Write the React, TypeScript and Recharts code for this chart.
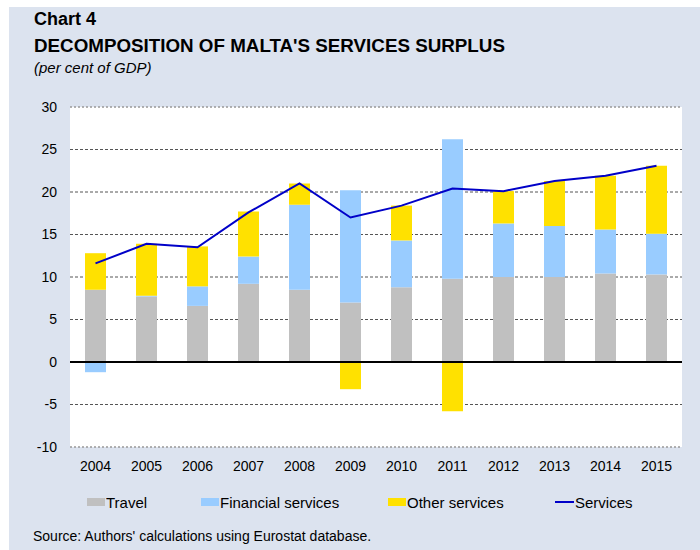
import React from "react";
import {
  ComposedChart,
  Bar,
  Line,
  XAxis,
  YAxis,
  CartesianGrid,
  ReferenceLine,
} from "recharts";

const years = ["2004", "2005", "2006", "2007", "2008", "2009", "2010", "2011", "2012", "2013", "2014", "2015"];
const travel = [8.5, 7.7, 6.6, 9.2, 8.5, 7.0, 8.8, 9.8, 10.0, 10.0, 10.4, 10.3];
const financial = [-1.2, 0.1, 2.3, 3.2, 10.0, 13.2, 5.5, 16.4, 6.3, 6.0, 5.2, 4.8];
const other = [4.3, 6.1, 4.7, 5.3, 2.5, -3.2, 4.1, -5.8, 3.8, 5.3, 6.3, 8.0];
const services = [11.6, 13.9, 13.5, 17.6, 21.0, 17.0, 18.4, 20.4, 20.1, 21.3, 21.9, 23.1];
const yTicks = [-10, -5, 0, 5, 10, 15, 20, 25, 30];

const data = years.map((year, i) => ({
  year,
  travel: travel[i],
  financial: financial[i],
  other: other[i],
  services: services[i],
}));

const FONT = "'Liberation Sans', Arial, sans-serif";
const colors = { travel: "#c0c0c0", financial: "#99ccff", other: "#ffe100", services: "#0000c8" };

const legendItems = [
  { label: "Travel", color: colors.travel, left: 78, type: "box" },
  { label: "Financial services", color: colors.financial, left: 192, type: "box" },
  { label: "Other services", color: colors.other, left: 379, type: "box" },
  { label: "Services", color: colors.services, left: 546, type: "line" },
];

export default function App() {
  return (
    <div
      style={{
        position: "absolute",
        left: 9,
        top: 7,
        width: 691,
        height: 543,
        background: "#dce3ef",
        fontFamily: FONT,
        color: "#000",
      }}
    >
      <div style={{ position: "absolute", left: 25, top: 2, fontSize: 18, fontWeight: "bold" }}>Chart 4</div>
      <div style={{ position: "absolute", left: 25, top: 28, fontSize: 18.8, fontWeight: "bold" }}>
        DECOMPOSITION OF MALTA'S SERVICES SURPLUS
      </div>
      <div style={{ position: "absolute", left: 25, top: 52, fontSize: 15, fontStyle: "italic" }}>
        (per cent of GDP)
      </div>

      <div style={{ position: "absolute", left: 0, top: 0 }}>
        <ComposedChart
          width={691}
          height={470}
          data={data}
          stackOffset="sign"
          margin={{ top: 100, right: 18, left: 11, bottom: 0 }}
        >
          <CartesianGrid
            vertical={false}
            fill="#ffffff"
            stroke="#555"
            strokeDasharray="3 2"
            horizontalValues={[-5, 5, 10, 15, 20, 25]}
          />
          <XAxis
            dataKey="year"
            axisLine={false}
            tickLine={false}
            tickMargin={8}
            tick={{ fill: "#000", fontSize: 14, fontFamily: FONT }}
          />
          <YAxis
            width={50}
            domain={[-10, 30]}
            ticks={yTicks}
            axisLine={false}
            tickLine={false}
            tickMargin={7}
            tick={{ fill: "#000", fontSize: 14, fontFamily: FONT }}
          />
          <ReferenceLine y={30} stroke="#999" strokeDasharray="2 2" strokeWidth={1.5} />
          <ReferenceLine y={-10} stroke="#999" strokeDasharray="2 2" strokeWidth={1.5} />
          <Bar dataKey="travel" stackId="a" fill={colors.travel} barSize={21} isAnimationActive={false} />
          <Bar dataKey="financial" stackId="a" fill={colors.financial} barSize={21} isAnimationActive={false} />
          <Bar dataKey="other" stackId="a" fill={colors.other} barSize={21} isAnimationActive={false} />
          <ReferenceLine y={0} stroke="#000" strokeWidth={2} />
          <Line
            dataKey="services"
            stroke={colors.services}
            strokeWidth={2}
            dot={false}
            isAnimationActive={false}
          />
        </ComposedChart>
      </div>

      {legendItems.map((item) => (
        <div
          key={item.label}
          style={{
            position: "absolute",
            left: item.left,
            top: 486,
            height: 18,
            display: "flex",
            alignItems: "center",
            fontSize: 15,
          }}
        >
          <span
            style={{
              display: "inline-block",
              width: item.type === "box" ? 18 : 19,
              height: item.type === "box" ? 8 : 2,
              background: item.color,
              marginRight: 1,
            }}
          />
          {item.label}
        </div>
      ))}

      <div style={{ position: "absolute", left: 24, top: 521, fontSize: 14 }}>
        Source: Authors' calculations using Eurostat database.
      </div>
    </div>
  );
}
